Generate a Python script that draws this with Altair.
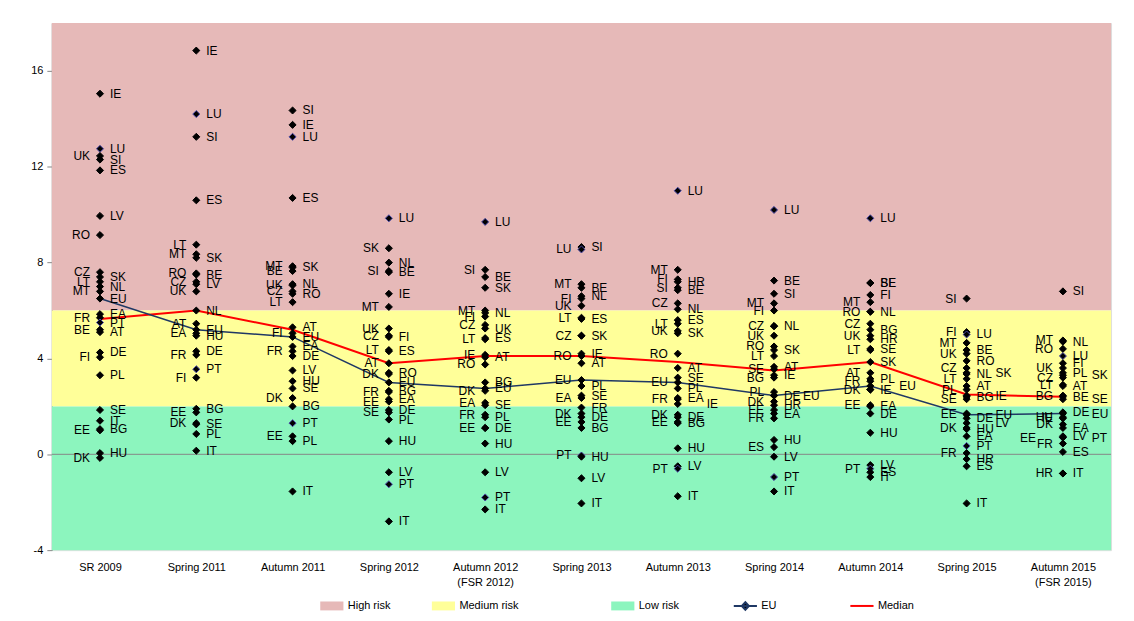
import altair as alt
import pandas as pd

FONT = "Liberation Sans"

periods = ["SR 2009", "Spring 2011", "Autumn 2011", "Spring 2012", "Autumn 2012\n(FSR 2012)",
           "Spring 2013", "Autumn 2013", "Spring 2014", "Autumn 2014", "Spring 2015",
           "Autumn 2015\n(FSR 2015)"]

# (country, value, label side)
sr2009 = [("IE", 15.05, "R"), ("LU", 12.75, "R"), ("UK", 12.45, "L"), ("SI", 12.3, "R"),
          ("ES", 11.85, "R"), ("LV", 9.95, "R"), ("RO", 9.15, "L"), ("CZ", 7.6, "L"),
          ("SK", 7.4, "R"), ("LT", 7.2, "L"), ("NL", 7.0, "R"), ("MT", 6.8, "L"),
          ("EU", 6.5, "R"), ("EA", 5.85, "R"), ("FR", 5.7, "L"), ("PT", 5.5, "R"),
          ("BE", 5.2, "L"), ("AT", 5.1, "R"), ("DE", 4.25, "R"), ("FI", 4.05, "L"),
          ("PL", 3.3, "R"), ("SE", 1.85, "R"), ("IT", 1.4, "R"), ("BG", 1.05, "R"),
          ("EE", 1.0, "L"), ("HU", 0.05, "R"), ("DK", -0.15, "L")]

spring2011 = [("IE", 16.85, "R"), ("LU", 14.2, "R"), ("SI", 13.25, "R"), ("ES", 10.6, "R"),
              ("LT", 8.75, "L"), ("MT", 8.35, "L"), ("SK", 8.2, "R"), ("RO", 7.55, "L"),
              ("BE", 7.5, "R"), ("CZ", 7.2, "L"), ("LV", 7.1, "R"), ("UK", 6.8, "L"),
              ("NL", 6.0, "R"), ("AT", 5.45, "L"), ("EU", 5.2, "R"), ("EA", 5.05, "L"),
              ("HU", 4.95, "R"), ("DE", 4.3, "R"), ("FR", 4.15, "L"), ("PT", 3.55, "R"),
              ("FI", 3.2, "L"), ("BG", 1.9, "R"), ("EE", 1.75, "L"), ("SE", 1.25, "R"),
              ("DK", 1.3, "L"), ("PL", 0.85, "R"), ("IT", 0.15, "R")]

autumn2011 = [("SI", 14.35, "R"), ("IE", 13.75, "R"), ("LU", 13.25, "R"), ("ES", 10.7, "R"),
              ("MT", 7.85, "L"), ("SK", 7.8, "R"), ("BE", 7.65, "L"), ("NL", 7.1, "R"),
              ("UK", 7.05, "L"), ("CZ", 6.8, "L"), ("RO", 6.7, "R"), ("LT", 6.35, "L"),
              ("AT", 5.3, "R"), ("FI", 5.05, "L"), ("EU", 4.9, "R"), ("EA", 4.5, "R"),
              ("FR", 4.3, "L"), ("DE", 4.1, "R"), ("LV", 3.5, "R"), ("HU", 3.05, "R"),
              ("SE", 2.75, "R"), ("DK", 2.35, "L"), ("BG", 2.0, "R"), ("PT", 1.3, "R"),
              ("EE", 0.75, "L"), ("PL", 0.55, "R"), ("IT", -1.55, "R")]

spring2012 = [("LU", 9.85, "R"), ("SK", 8.6, "L"), ("NL", 8.0, "R"), ("SI", 7.65, "L"),
              ("BE", 7.6, "R"), ("IE", 6.7, "R"), ("MT", 6.15, "L"), ("UK", 5.25, "L"),
              ("CZ", 4.95, "L"), ("FI", 4.9, "R"), ("LT", 4.35, "L"), ("ES", 4.3, "R"),
              ("AT", 3.8, "L"), ("RO", 3.4, "R"), ("DK", 3.35, "L"), ("EU", 3.0, "R"),
              ("BG", 2.65, "R"), ("FR", 2.6, "L"), ("EA", 2.3, "R"), ("EE", 2.2, "L"),
              ("DE", 1.85, "R"), ("SE", 1.75, "L"), ("PL", 1.45, "R"), ("HU", 0.55, "R"),
              ("LV", -0.75, "R"), ("PT", -1.25, "R"), ("IT", -2.8, "R")]

autumn2012 = [("LU", 9.7, "R"), ("SI", 7.7, "L"), ("BE", 7.4, "R"), ("SK", 6.95, "R"),
              ("MT", 6.0, "L"), ("NL", 5.9, "R"), ("FI", 5.75, "L"), ("CZ", 5.4, "L"),
              ("UK", 5.25, "R"), ("ES", 4.85, "R"), ("LT", 4.8, "L"), ("IE", 4.15, "L"),
              ("AT", 4.05, "R"), ("RO", 3.75, "L"), ("BG", 3.0, "R"), ("EU", 2.75, "R"),
              ("DK", 2.65, "L"), ("EA", 2.15, "L"), ("SE", 2.05, "R"), ("FR", 1.65, "L"),
              ("PL", 1.55, "R"), ("EE", 1.1, "L"), ("DE", 1.1, "R"), ("HU", 0.45, "R"),
              ("LV", -0.75, "R"), ("PT", -1.8, "R"), ("IT", -2.3, "R")]

spring2013 = [("SI", 8.65, "R"), ("LU", 8.55, "L"), ("MT", 7.1, "L"), ("BE", 6.95, "R"),
              ("NL", 6.6, "R"), ("FI", 6.5, "L"), ("UK", 6.2, "L"), ("LT", 5.7, "L"),
              ("ES", 5.65, "R"), ("CZ", 4.95, "L"), ("SK", 4.95, "R"), ("IE", 4.2, "R"),
              ("RO", 4.1, "L"), ("AT", 3.8, "R"), ("EU", 3.1, "L"), ("PL", 2.85, "R"),
              ("SE", 2.45, "R"), ("EA", 2.35, "L"), ("FR", 1.95, "R"), ("DK", 1.7, "L"),
              ("DE", 1.55, "R"), ("EE", 1.35, "L"), ("BG", 1.1, "R"), ("PT", -0.05, "L"),
              ("HU", -0.1, "R"), ("LV", -1.0, "R"), ("IT", -2.05, "R")]

autumn2013 = [("LU", 11.0, "R"), ("MT", 7.7, "L"), ("FI", 7.3, "L"), ("HR", 7.2, "R"),
              ("SI", 6.95, "L"), ("BE", 6.85, "R"), ("CZ", 6.3, "L"), ("NL", 6.05, "R"),
              ("ES", 5.6, "R"), ("LT", 5.45, "L"), ("UK", 5.15, "L"), ("SK", 5.05, "R"),
              ("RO", 4.2, "L"), ("AT", 3.6, "R"), ("SE", 3.2, "R"), ("EU", 3.0, "L"),
              ("PL", 2.75, "R"), ("EA", 2.35, "R"), ("FR", 2.3, "L"), ("IE", 2.1, "RR"),
              ("DK", 1.65, "L"), ("DE", 1.55, "R"), ("EE", 1.35, "L"), ("BG", 1.3, "R"),
              ("HU", 0.25, "R"), ("LV", -0.5, "R"), ("PT", -0.6, "L"), ("IT", -1.75, "R")]

spring2014 = [("LU", 10.2, "R"), ("BE", 7.25, "R"), ("SI", 6.7, "R"), ("MT", 6.3, "L"),
              ("FI", 6.0, "L"), ("NL", 5.35, "R"), ("CZ", 5.35, "L"), ("UK", 4.95, "L"),
              ("RO", 4.5, "L"), ("SK", 4.35, "R"), ("LT", 4.1, "L"), ("AT", 3.65, "R"),
              ("SE", 3.55, "L"), ("IE", 3.3, "R"), ("BG", 3.2, "L"), ("PL", 2.6, "L"),
              ("DE", 2.45, "R"), ("EU", 2.45, "RR"), ("DK", 2.2, "L"), ("HR", 2.05, "R"),
              ("EE", 1.85, "L"), ("EA", 1.7, "R"), ("FR", 1.5, "L"), ("HU", 0.6, "R"),
              ("ES", 0.3, "L"), ("LV", -0.1, "R"), ("PT", -0.95, "R"), ("IT", -1.55, "R")]

autumn2014 = [("LU", 9.85, "R"), ("SI", 7.15, "R"), ("BE", 7.15, "R"), ("FI", 6.65, "R"),
              ("MT", 6.35, "L"), ("RO", 5.95, "L"), ("NL", 5.95, "R"), ("CZ", 5.45, "L"),
              ("BG", 5.2, "R"), ("UK", 4.95, "L"), ("HR", 4.8, "R"), ("LT", 4.35, "L"),
              ("SE", 4.4, "R"), ("SK", 3.85, "R"), ("AT", 3.4, "L"), ("PL", 3.15, "R"),
              ("FR", 3.05, "L"), ("EU", 2.85, "RR"), ("DK", 2.7, "L"), ("IE", 2.7, "R"),
              ("EE", 2.05, "L"), ("EA", 2.0, "R"), ("DE", 1.7, "R"), ("HU", 0.9, "R"),
              ("LV", -0.45, "R"), ("PT", -0.6, "L"), ("ES", -0.75, "R"), ("IT", -0.95, "R")]

spring2015 = [("SI", 6.5, "L"), ("FI", 5.1, "L"), ("LU", 5.0, "R"), ("MT", 4.65, "L"),
              ("BE", 4.35, "R"), ("UK", 4.2, "L"), ("RO", 3.9, "R"), ("CZ", 3.6, "L"),
              ("NL", 3.35, "R"), ("SK", 3.4, "RR"), ("LT", 3.15, "L"), ("AT", 2.85, "R"),
              ("PL", 2.7, "L"), ("IE", 2.45, "RR"), ("BG", 2.4, "R"), ("SE", 2.3, "L"),
              ("EE", 1.7, "L"), ("EU", 1.65, "RR"), ("DE", 1.5, "R"), ("LV", 1.3, "RR"),
              ("DK", 1.1, "L"), ("HU", 1.05, "R"), ("EA", 0.75, "R"), ("PT", 0.35, "R"),
              ("FR", 0.05, "L"), ("HR", -0.2, "R"), ("ES", -0.5, "R"), ("IT", -2.05, "R")]

autumn2015 = [("SI", 6.8, "R"), ("MT", 4.75, "L"), ("NL", 4.7, "R"), ("RO", 4.4, "L"),
              ("LU", 4.1, "R"), ("FI", 3.8, "R"), ("UK", 3.6, "L"), ("PL", 3.4, "R"),
              ("SK", 3.3, "RR"), ("CZ", 3.2, "L"), ("LT", 2.9, "L"), ("AT", 2.85, "R"),
              ("BG", 2.45, "L"), ("BE", 2.4, "R"), ("SE", 2.3, "RR"), ("DE", 1.75, "R"),
              ("EU", 1.7, "RR"), ("HU", 1.55, "L"), ("IE", 1.5, "L"), ("DK", 1.25, "L"),
              ("EA", 1.1, "R"), ("LV", 0.75, "R"), ("PT", 0.7, "RR"), ("EE", 0.7, "LL"),
              ("FR", 0.45, "L"), ("ES", 0.1, "R"), ("HR", -0.8, "L"), ("IT", -0.8, "R")]

columns = [sr2009, spring2011, autumn2011, spring2012, autumn2012, spring2013,
           autumn2013, spring2014, autumn2014, spring2015, autumn2015]

median = [5.65, 6.0, 5.2, 3.8, 4.1, 4.1, 3.85, 3.5, 3.85, 2.5, 2.4]

risk_names = ["High risk", "Medium risk", "Low risk"]
risk_low = [6, 2, -4]
risk_high = [18, 6, 2]
risk_colors = ["#E6B9B8", "#FFFF99", "#8CF5BE"]

rows = []
for i, (p, col) in enumerate(zip(periods, columns)):
    for code, v, side in col:
        rows.append(dict(period=p, idx=i, code=code, value=v, side=side))
pts = pd.DataFrame(rows)
eu = pts[pts.code == "EU"].copy()
eu["series"] = "EU"
med = pd.DataFrame(dict(period=periods, idx=list(range(len(periods))), value=median,
                        series="Median"))
bands = pd.DataFrame(dict(risk=risk_names, lo=risk_low, hi=risk_high))

W, H = 1063, 529

xenc = alt.X("period:N", sort=periods, scale=alt.Scale(type="point", padding=0.5),
             axis=alt.Axis(title=None, domain=False, ticks=False, labelPadding=11,
                           labelFontSize=11, labelColor="black", labelFont=FONT,
                           labelAngle=0, labelOverlap=False, labelLineHeight=15,
                           labelExpr="split(datum.label, '\\n')"))
yscale = alt.Scale(domain=[-4, 18], nice=False, zero=False)
yaxis = alt.Axis(title=None, values=[-4, 0, 4, 8, 12, 16], grid=False,
                 domainColor="#868686", tickColor="#868686", tickSize=5,
                 labelFontSize=11, labelColor="black", labelFont=FONT, labelPadding=4,
                 labelExpr="'' + datum.value")

SWATCH = "M-1.3,-0.5H1.3V0.5H-1.3Z"
LINE = "M-1.3,0H1.3"
EUSYM = "M-1.3,0H1.3M0,-0.42L0.4,0L0,0.42L-0.4,0Z"
LEG_Y = 575


def leg(x, sym, **kw):
    return alt.Legend(orient="none", legendX=x, legendY=LEG_Y, title=None,
                      symbolType=sym, symbolSize=320, labelFontSize=11, labelFont=FONT,
                      labelColor="black", padding=0, labelOffset=6, **kw)


layers = []
leg_x = [271, 383, 563]
for name, c, lx in zip(risk_names, risk_colors, leg_x):
    layers.append(
        alt.Chart(bands[bands.risk == name]).mark_rect().encode(
            y=alt.Y("lo:Q", scale=yscale, axis=yaxis),
            y2="hi:Q",
            color=alt.Color("risk:N", scale=alt.Scale(domain=[name], range=[c]),
                            legend=leg(lx, SWATCH, symbolOpacity=1)),
        )
    )

zero = alt.Chart(pd.DataFrame({"z": [0]})).mark_rule(color="#868686", strokeWidth=1).encode(
    y=alt.Y("z:Q", scale=yscale, axis=yaxis))
layers.append(zero)

med_line = alt.Chart(med).mark_line(strokeWidth=2).encode(
    x=xenc, y=alt.Y("value:Q", scale=yscale, axis=yaxis), order="idx:Q",
    color=alt.Color("series:N", scale=alt.Scale(domain=["Median"], range=["#FF0000"]),
                    legend=leg(803, LINE, symbolStrokeWidth=2)))
eu_line = alt.Chart(eu).mark_line(strokeWidth=1.5).encode(
    x=xenc, y=alt.Y("value:Q", scale=yscale, axis=yaxis), order="idx:Q",
    color=alt.Color("series:N", scale=alt.Scale(domain=["EU"], range=["#1F3864"]),
                    legend=leg(686, EUSYM, symbolStrokeWidth=2, symbolFillColor="#000000")))
layers += [med_line, eu_line]

points = alt.Chart(pts).mark_point(shape="diamond", filled=True, size=50, opacity=1,
                                   fill="black", strokeWidth=1).encode(
    x=xenc, y=alt.Y("value:Q", scale=yscale, axis=yaxis),
    stroke=alt.condition(alt.FieldOneOfPredicate(field="code", oneOf=["LU", "PT"]),
                         alt.value("#4B4BA8"), alt.value("black")))
layers.append(points)

sides = {"R": ("left", 10), "L": ("right", -10), "RR": ("left", 29), "LL": ("right", -27)}
for s, (al, dx) in sides.items():
    layers.append(
        alt.Chart(pts[pts.side == s]).mark_text(align=al, dx=dx, baseline="middle",
                                                 fontSize=12, font=FONT, color="black").encode(
            x=xenc, y=alt.Y("value:Q", scale=yscale, axis=yaxis), text="code:N")
    )

chart = alt.layer(*layers).resolve_scale(color="independent").properties(
    width=W, height=H,
    autosize=alt.AutoSizeParams(type="none"),
    padding={"left": 44, "top": 14, "right": 15, "bottom": 62},
).configure_view(stroke=None).configure(font=FONT, background="white")

chart.save("out.html", embed_options={"renderer": "svg", "actions": False})
